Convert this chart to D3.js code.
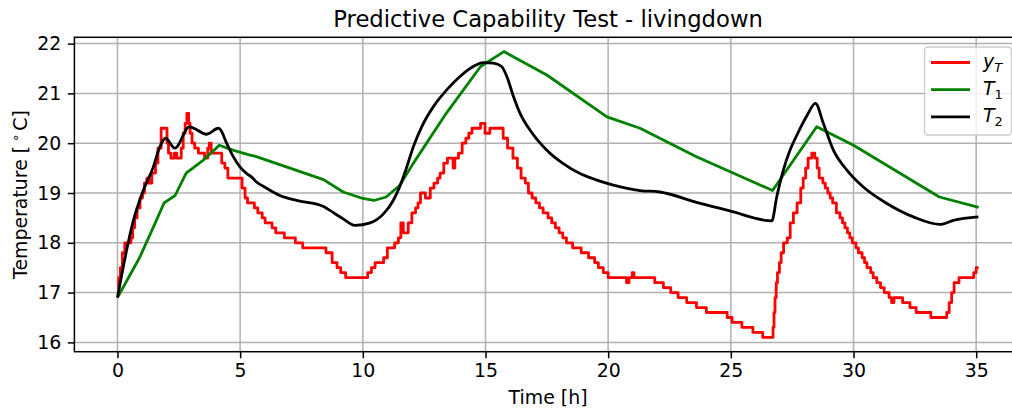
<!DOCTYPE html>
<html>
<head>
<meta charset="utf-8">
<script src="https://cdn.jsdelivr.net/npm/d3@7"></script>
<style>
    body { margin: 0; background: #fff; }
    #chart svg { display: block; overflow: hidden; }
    .axis text { font-family: 'DejaVu Sans', sans-serif; font-size: 18.9px; fill: #000; }
    .axis line { stroke: #000; stroke-width: 1.5; }
    .grid line { stroke: #b0b0b0; stroke-width: 1.5; }
</style>
</head>
<body>
<div id="chart"></div>
<script>

// measured room temperature y_T (steps of 0.1 degC), value holds until next time
var yT_time = [0, 0.05, 0.12, 0.2, 0.3, 0.55, 0.62, 0.7, 0.8, 0.92, 1.02, 1.1, 1.2, 1.28, 1.4, 1.55, 1.65, 1.78,
    2.02, 2.08, 2.18, 2.32, 2.42, 2.6, 2.68, 2.76, 2.83, 2.9, 2.96, 3.04, 3.15, 3.3, 3.55, 3.68, 3.74, 3.82,
    4.25, 4.38, 4.5, 5.08, 5.2, 5.3, 5.58, 5.72, 5.9, 6.02, 6.3, 6.45, 6.8, 7.25, 7.55, 8.5, 8.75, 8.95, 9.1, 9.3,
    10.2, 10.35, 10.5, 10.85, 11.0, 11.3, 11.45, 11.55, 11.65, 11.85, 12.0, 12.15, 12.25, 12.35, 12.55, 12.75,
    12.9, 13.05, 13.15, 13.3, 13.45, 13.68, 13.75, 13.9, 14.05, 14.2, 14.32, 14.45, 14.8, 14.98, 15.18, 15.72,
    15.9, 16.12, 16.3, 16.45, 16.62, 16.75, 16.9, 17.05, 17.2, 17.35, 17.55, 17.7, 17.85, 18.0, 18.15, 18.3,
    18.55, 18.9, 19.2, 19.45, 19.6, 19.8, 20.0, 20.75, 20.85, 20.98, 21.05, 21.9, 22.25, 22.55, 22.85, 23.2,
    23.6, 24.0, 24.85, 25.05, 25.45, 25.9, 26.3, 26.72, 26.76, 26.8, 26.85, 26.9, 26.98, 27.05, 27.15, 27.3,
    27.42, 27.55, 27.7, 27.85, 27.95, 28.05, 28.15, 28.3, 28.42, 28.52, 28.6, 28.75, 28.85, 28.95, 29.05, 29.15,
    29.3, 29.45, 29.55, 29.65, 29.75, 29.85, 29.95, 30.1, 30.2, 30.35, 30.45, 30.55, 30.7, 30.8, 30.95, 31.1,
    31.25, 31.45, 31.55, 31.65, 32.0, 32.3, 32.55, 33.15, 33.8, 33.9, 34.0, 34.1, 34.3, 34.9, 35.0, 35.1];
var yT_value = [17.1, 17.3, 17.5, 17.8, 18.0, 18.1, 18.3, 18.5, 18.7, 18.9, 19.0, 19.2, 19.3, 19.2, 19.4, 19.6, 19.9, 20.3,
    20.0, 19.8, 19.7, 19.8, 19.7, 19.9, 20.2, 20.4, 20.6, 20.4, 20.2, 20.0, 19.9, 19.8, 19.7, 19.9, 20.0, 19.8,
    19.6, 19.5, 19.3, 19.1, 18.9, 18.8, 18.7, 18.6, 18.5, 18.4, 18.3, 18.2, 18.1, 18.0, 17.9, 17.8, 17.6, 17.5, 17.4, 17.3,
    17.4, 17.5, 17.6, 17.7, 17.9, 18.0, 18.1, 18.4, 18.2, 18.4, 18.6, 18.7, 18.8, 19.0, 18.9, 19.1,
    19.2, 19.3, 19.4, 19.6, 19.7, 19.5, 19.7, 19.8, 20.0, 20.1, 20.2, 20.3, 20.4, 20.2, 20.3, 20.1,
    19.9, 19.7, 19.5, 19.3, 19.2, 19.0, 18.9, 18.8, 18.7, 18.6, 18.5, 18.4, 18.3, 18.2, 18.1, 18.0,
    17.9, 17.8, 17.7, 17.6, 17.5, 17.4, 17.3, 17.2, 17.3, 17.4, 17.3, 17.2, 17.1, 17.0, 16.9, 16.8,
    16.7, 16.6, 16.5, 16.4, 16.3, 16.2, 16.1, 16.3, 16.6, 16.9, 17.2, 17.4, 17.6, 17.8, 18.0, 18.1,
    18.4, 18.6, 18.8, 19.1, 19.3, 19.5, 19.7, 19.8, 19.7, 19.5, 19.3, 19.2, 19.1, 19.0, 18.9, 18.8,
    18.6, 18.5, 18.4, 18.3, 18.2, 18.1, 18.0, 17.9, 17.8, 17.7, 17.6, 17.5, 17.4, 17.3, 17.2, 17.1,
    17.0, 16.9, 16.8, 16.9, 16.8, 16.7, 16.6, 16.5, 16.6, 16.8, 17.0, 17.2, 17.3, 17.4, 17.5, 17.5];

// model state T1
var T1_time = [0, 0.9, 1.45, 1.9, 2.35, 2.8, 3.5, 4.15, 4.7, 5.4, 5.6, 8.4, 9.2, 10.0, 10.45, 10.95, 11.5, 12.05,
    13.4, 14.8, 15.75, 17.5, 19.95, 21.3, 23.6, 26.7, 28.5, 30.0, 33.5, 35.1];
var T1_value = [16.9, 17.7, 18.3, 18.8, 18.95, 19.4, 19.66, 19.96, 19.86, 19.76, 19.74, 19.27, 19.02, 18.89, 18.85, 18.92, 19.15, 19.59,
    20.6, 21.54, 21.84, 21.37, 20.53, 20.3, 19.73, 19.05, 20.33, 19.96, 18.92, 18.71];

// model state T2
var T2_time = [0, 0.65, 1.05, 1.46, 1.73, 1.96, 2.34, 2.93, 3.64, 4.11, 4.2, 4.45, 4.72, 5.0, 5.27, 5.47, 5.67, 6.1,
    6.62, 7.3, 8.4, 8.66, 9.2, 9.68, 10.3, 10.84, 11.24, 11.5, 11.75, 12.06, 12.4, 12.87, 13.42, 13.96, 14.5,
    14.91, 15.32, 15.66, 15.87, 16.14, 16.41, 16.82, 17.5, 18.17, 18.85, 19.54, 20.21, 21.3, 22.1, 23.75, 24.96,
    26.67, 26.87, 27.14, 27.41, 27.69, 28.1, 28.45, 28.77, 29.18, 29.73, 30.4, 31.36, 32.44, 33.53, 34.07, 35.09];
var T2_value = [16.9, 18.45, 19.05, 19.52, 19.93, 20.1, 19.9, 20.33, 20.18, 20.3, 20.27, 20.0, 19.73, 19.52, 19.39, 19.32, 19.22, 19.09,
    18.95, 18.85, 18.73, 18.65, 18.48, 18.35, 18.4, 18.58, 18.85, 19.12, 19.46, 19.93, 20.33, 20.73, 21.07, 21.34, 21.54,
    21.62, 21.61, 21.54, 21.34, 20.94, 20.6, 20.26, 19.86, 19.59, 19.39, 19.26, 19.16, 19.05, 19.02, 18.79, 18.64,
    18.44, 18.92, 19.46, 19.86, 20.16, 20.55, 20.8, 20.4, 19.86, 19.46, 19.12, 18.79, 18.52, 18.37, 18.45, 18.52];

var xTicks = [0, 5, 10, 15, 20, 25, 30, 35];
var yTicks = [16, 17, 18, 19, 20, 21, 22];

var seriesNames = ['y_T', 'T_1', 'T_2'];
var seriesColors = ['#ff0000', '#008000', '#000000'];

function zip(ts, vs) {
    var out = [];
    for (var i = 0; i < ts.length; i ++) {
        out.push({t: ts[i], v: vs[i]});
    }
    return out;
}

var series = [zip(yT_time, yT_value), zip(T1_time, T1_value), zip(T2_time, T2_value)];
var curves = [d3.curveStepAfter, d3.curveLinear, d3.curveMonotoneX];

plotChart();

function plotChart() {

    var margin = {top: 37.3, right: 0, bottom: 59.3, left: 74.4}
        , width = 947.3
        , height = 411 - margin.top - margin.bottom;

    // matplotlib style 5% margins
    var all = d3.merge(series);
    var xMin = d3.min(all, function(d) { return d.t; });
    var xMax = d3.max(all, function(d) { return d.t; });
    var yMin = d3.min(all, function(d) { return d.v; });
    var yMax = d3.max(all, function(d) { return d.v; });
    var xPad = 0.05 * (xMax - xMin), yPad = 0.05 * (yMax - yMin);

    var x = d3.scaleLinear()
        .domain([xMin - xPad, xMax + xPad])
        .range([0, width]);

    var y = d3.scaleLinear()
        .domain([yMin - yPad, yMax + yPad])
        .range([height, 0]);

    var chart = d3.select('#chart')
        .append('svg')
        .attr('width', 1012)
        .attr('height', 411);

    // title
    chart.append('text')
        .attr('x', margin.left + width / 2)
        .attr('y', 26.5)
        .attr('text-anchor', 'middle')
        .style('font-family', "'DejaVu Sans', sans-serif")
        .style('font-size', '22.7px')
        .text('Predictive Capability Test - livingdown');

    var main = chart.append('g')
        .attr('transform', 'translate(' + margin.left + ',' + margin.top + ')');

    // grid
    var grid = main.append('g').attr('class', 'grid');
    grid.selectAll('line.gx')
        .data(xTicks)
        .enter().append('line')
        .attr('x1', function(d) { return x(d); })
        .attr('x2', function(d) { return x(d); })
        .attr('y1', 0)
        .attr('y2', height);
    grid.selectAll('line.gy')
        .data(yTicks)
        .enter().append('line')
        .attr('class', 'gy')
        .attr('x1', 0)
        .attr('x2', width)
        .attr('y1', function(d) { return y(d); })
        .attr('y2', function(d) { return y(d); });

    // series
    var line = d3.line()
        .x(function(d) { return x(d.t); })
        .y(function(d) { return y(d.v); });

    series.forEach(function(s, i) {
        main.append('path')
            .datum(s)
            .attr('fill', 'none')
            .attr('stroke', seriesColors[i])
            .attr('stroke-width', 2.8)
            .attr('stroke-linejoin', 'round')
            .attr('d', line.curve(curves[i]));
    });

    // axes
    var xAxis = d3.axisBottom(x).tickValues(xTicks).tickFormat(d3.format('d'))
        .tickSize(6.6).tickPadding(5.5);
    main.append('g')
        .attr('class', 'axis')
        .attr('transform', 'translate(0,' + height + ')')
        .call(xAxis)
        .call(function(g) { g.select('.domain').remove(); });

    var yAxis = d3.axisLeft(y).tickValues(yTicks).tickFormat(d3.format('d'))
        .tickSize(6.6).tickPadding(6.6);
    main.append('g')
        .attr('class', 'axis')
        .call(yAxis)
        .call(function(g) { g.select('.domain').remove(); });

    // spines
    main.append('rect')
        .attr('x', 0)
        .attr('y', 0)
        .attr('width', width)
        .attr('height', height)
        .attr('fill', 'none')
        .attr('stroke', '#000')
        .attr('stroke-width', 1.5);

    // axis labels
    chart.append('text')
        .attr('x', margin.left + width / 2)
        .attr('y', 404)
        .attr('text-anchor', 'middle')
        .style('font-family', "'DejaVu Sans', sans-serif")
        .style('font-size', '18.9px')
        .text('Time [h]');

    var yl = chart.append('text')
        .attr('transform', 'translate(27,' + (margin.top + height / 2) + ') rotate(-90)')
        .attr('text-anchor', 'middle')
        .style('font-family', "'DejaVu Sans', sans-serif")
        .style('font-size', '18.9px');
    yl.append('tspan').text('Temperature [');
    yl.append('tspan').attr('dx', 4).attr('dy', -7).style('font-size', '13px').text('\u2218');
    yl.append('tspan').attr('dx', 3).attr('dy', 7).text('C]');

    // legend
    var lx = 924.5, ly = 47, lw = 87, lh = 88;
    var legend = chart.append('g');
    legend.append('rect')
        .attr('x', lx)
        .attr('y', ly)
        .attr('width', lw)
        .attr('height', lh)
        .attr('rx', 3.5)
        .attr('fill', '#fff')
        .attr('fill-opacity', 0.8)
        .attr('stroke', '#cccccc')
        .attr('stroke-width', 1.4);

    seriesNames.forEach(function(name, i) {
        var cy = 62.5 + i * 27.2;
        legend.append('line')
            .attr('x1', 931)
            .attr('x2', 970)
            .attr('y1', cy)
            .attr('y2', cy)
            .attr('stroke', seriesColors[i])
            .attr('stroke-width', 2.8);
        var t = legend.append('text')
            .attr('x', 983)
            .attr('y', cy + 5)
            .style('font-family', "'DejaVu Sans', sans-serif")
            .style('font-size', '18.9px');
        var parts = name.split('_');
        t.append('tspan').style('font-style', 'italic').text(parts[0]);
        t.append('tspan')
            .attr('dy', 4)
            .style('font-size', '13px')
            .style('font-style', parts[1] == 'T' ? 'italic' : 'normal')
            .text(parts[1]);
    });
}

</script>
</body>
</html>
